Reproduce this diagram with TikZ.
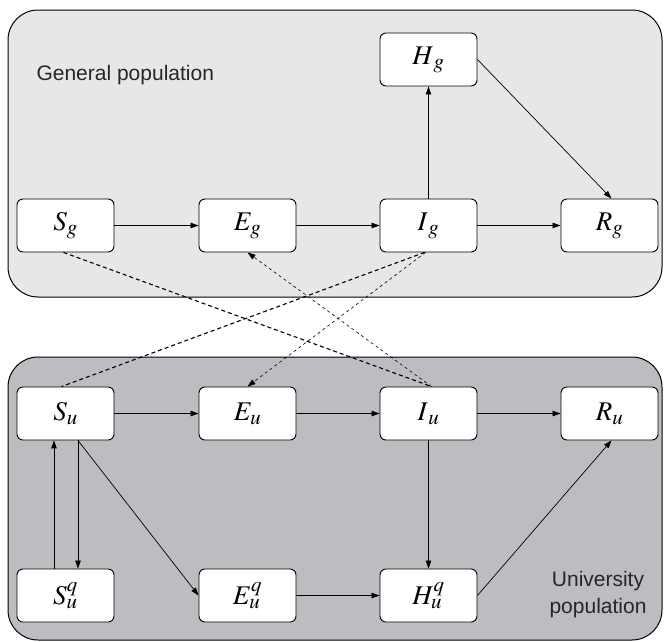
\documentclass[tikz,border=0pt]{standalone}
\usepackage{mathptmx}
\usepackage{fontspec}
\setmainfont{Liberation Serif}
\setsansfont{Liberation Sans}
\DeclareMathSizes{27}{27}{21}{16}
\usetikzlibrary{arrows.meta}
\definecolor{topgray}{RGB}{230,231,233}
\definecolor{botgray}{RGB}{187,189,192}
\begin{document}
\begin{tikzpicture}[x=1pt,y=-1pt,
  box/.style={draw=black, fill=white, rounded corners=6pt, minimum width=97pt, minimum height=53pt, line width=0.9pt, inner sep=0pt, font=\fontsize{27}{30}\selectfont},
  flow/.style={-{Triangle[length=8pt,width=5.5pt]}, line width=0.7pt},
  link/.style={dash pattern=on 4pt off 3pt, line width=1.1pt},
  inf/.style={dash pattern=on 3pt off 3pt, line width=0.6pt, -{Triangle[length=8pt,width=5.5pt]}},
  panel/.style={draw=black, line width=1pt, rounded corners=30pt},
  lbl/.style={font=\sffamily\fontsize{21}{27}\selectfont, text=black!85}]
\useasboundingbox (0,0) rectangle (664,641);
\draw[panel, fill=topgray] (8,10) rectangle (662,297);
\draw[panel, fill=botgray] (8,357) rectangle (662,640);
\node[lbl, anchor=west] (gp) at (33,75) {General population};
\node[lbl, align=center] (up) at (598,595) {University\\population};
\node[box] (Hg) at (428.5,59.5) {$H_{\,g}$};
\node[box] (Sg) at (65.5,225.5) {$S_{g}$};
\node[box] (Eg) at (247.5,225.5) {$E_g$};
\node[box] (Ig) at (428.5,225.5) {$I_{\,g}$};
\node[box] (Rg) at (609.5,225.5) {$R_g$};
\node[box] (Su) at (65.5,413.5) {$S_u$};
\node[box] (Eu) at (247.5,413.5) {$E_u$};
\node[box] (Iu) at (428.5,413.5) {$I_{\,u}$};
\node[box] (Ru) at (609.5,413.5) {$R_u$};
\node[box] (Squ) at (65.5,595.5) {$S_u^q$};
\node[box] (Equ) at (247.5,595.5) {$E_u^q$};
\node[box] (Hqu) at (428.5,595.5) {$H_u^q$};
\draw[flow] (Sg) -- (Eg);
\draw[flow] (Eg) -- (Ig);
\draw[flow] (Ig) -- (Rg);
\draw[flow] (Ig) -- (Hg);
\draw[flow] (Hg.east) -- ([xshift=2pt]Rg.north);
\draw[flow] (Su) -- (Eu);
\draw[flow] (Eu) -- (Iu);
\draw[flow] (Iu) -- (Ru);
\draw[link] ([xshift=-2pt]Sg.south) -- ([xshift=3pt]Iu.north);
\draw[inf] ([xshift=3pt]Iu.north) -- (Eg.south);
\draw[link] ([xshift=-4pt]Ig.south) -- ([xshift=-4pt]Su.north);
\draw[inf] ([xshift=-3pt]Ig.south) -- (Eu.north);
\draw[flow] ([xshift=-11.5pt]Squ.north) -- ([xshift=-11.5pt]Su.south);
\draw[flow] ([xshift=12.5pt]Su.south) -- ([xshift=12.5pt]Squ.north);
\draw[flow] ([xshift=12.5pt]Su.south) -- (Equ.west);
\draw[flow] (Iu) -- (Hqu);
\draw[flow] (Equ) -- (Hqu);
\draw[flow] (Hqu.east) -- ([xshift=2pt]Ru.south);
\end{tikzpicture}
\end{document}
